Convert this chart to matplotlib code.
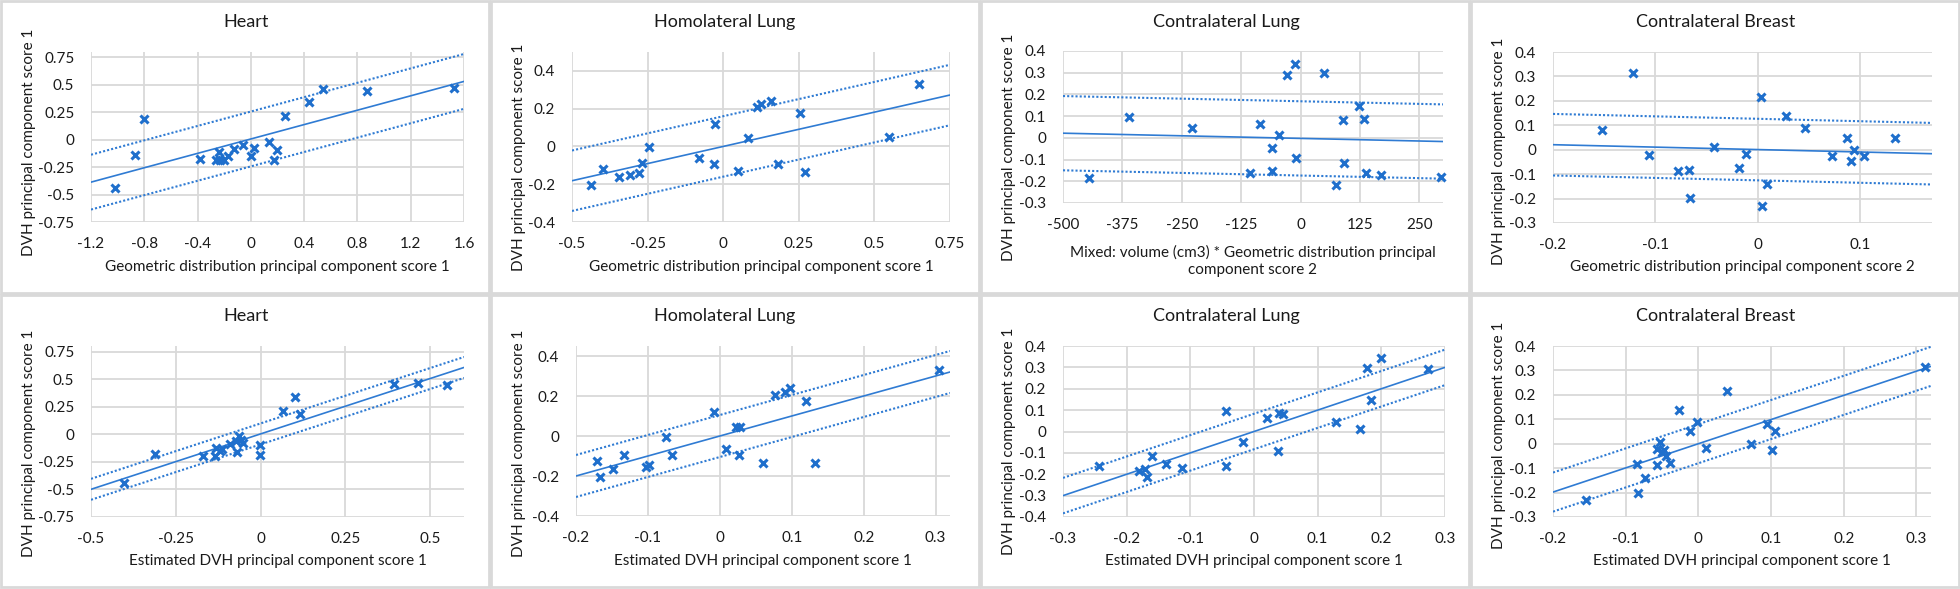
import numpy as np
import matplotlib
matplotlib.use("Agg")
import matplotlib.pyplot as plt
from matplotlib.patches import Rectangle

plt.rcParams["font.family"] = ["Lato", "DejaVu Sans"]

# ---- data (top row: predictors, bottom row: estimated) ----
heart_geo_x = [-1.018, -0.868, -0.80, -0.381, -0.263, -0.238, -0.231, -0.201, -0.173, -0.126,
               -0.061, 0.004, 0.026, 0.134, 0.176, 0.194, 0.256, 0.438, 0.543, 0.875, 1.522]
heart_geo_y = [-0.438, -0.136, 0.19, -0.178, -0.187, -0.115, -0.187, -0.187, -0.145, -0.082,
               -0.051, -0.151, -0.076, -0.021, -0.184, -0.097, 0.214, 0.344, 0.462, 0.447, 0.474]

homo_geo_x = [-0.438, -0.397, -0.346, -0.308, -0.277, -0.267, -0.244, -0.079, -0.032, -0.026,
              0.049, 0.083, 0.112, 0.125, 0.157, 0.182, 0.255, 0.271, 0.548, 0.647]
homo_geo_y = [-0.206, -0.120, -0.160, -0.153, -0.142, -0.088, -0.002, -0.062, -0.091, 0.121,
              -0.130, 0.046, 0.207, 0.223, 0.241, -0.095, 0.176, -0.134, 0.049, 0.331]

contra_mix_x = [-445.9, -361.7, -227.6, -106.8, -85.7, -60.4, -59.0, -45.7, -28.8, -12.0,
                -9.2, 49.8, 73.7, 89.8, 91.3, 123.6, 133.4, 137.6, 168.5, 295.6]
contra_mix_y = [-0.184, 0.094, 0.045, -0.162, 0.063, -0.048, -0.151, 0.011, 0.291, 0.342,
                -0.093, 0.297, -0.215, 0.082, -0.114, 0.148, 0.085, -0.162, -0.170, -0.178]

breast_geo_x = [-0.1526, -0.1216, -0.1066, -0.0776, -0.0675, -0.0662, -0.0424, -0.0189, -0.0111, 0.0033,
                0.0039, 0.0085, 0.0277, 0.0463, 0.0721, 0.0874, 0.0907, 0.0942, 0.1037, 0.134]
breast_geo_y = [0.079, 0.315, -0.020, -0.087, -0.085, -0.199, 0.010, -0.076, -0.016, 0.214,
                -0.232, -0.141, 0.138, 0.089, -0.027, 0.049, -0.045, -0.001, -0.025, 0.049]

heart_est_x = [-0.403, -0.312, -0.170, -0.133, -0.130, -0.120, -0.113, -0.091, -0.071, -0.069, -0.065,
               -0.059, -0.051, -0.001, -0.002, 0.066, 0.103, 0.115, 0.395, 0.463, 0.549]
heart_est_y = [-0.438, -0.181, -0.197, -0.197, -0.127, -0.151, -0.136, -0.085, -0.060, -0.160, -0.015,
               -0.051, -0.082, -0.097, -0.187, 0.212, 0.339, 0.187, 0.460, 0.469, 0.448]

homo_est_x = [-0.171, -0.167, -0.148, -0.133, -0.102, -0.098, -0.075, -0.066, -0.008, 0.008,
              0.022, 0.028, 0.026, 0.060, 0.077, 0.090, 0.097, 0.120, 0.132, 0.305]
homo_est_y = [-0.123, -0.206, -0.164, -0.093, -0.153, -0.144, -0.007, -0.093, 0.118, -0.065,
              0.046, 0.046, -0.095, -0.133, 0.206, 0.221, 0.239, 0.173, -0.136, 0.329]

contra_est_x = [-0.244, -0.180, -0.171, -0.168, -0.160, -0.139, -0.113, -0.044, -0.044, -0.018,
                0.020, 0.038, 0.040, 0.046, 0.129, 0.167, 0.177, 0.183, 0.200, 0.274]
contra_est_y = [-0.163, -0.183, -0.176, -0.213, -0.113, -0.151, -0.171, 0.094, -0.163, -0.049,
                0.063, -0.093, 0.085, 0.084, 0.045, 0.013, 0.296, 0.149, 0.344, 0.292]

breast_est_x = [-0.154, -0.084, -0.083, -0.073, -0.057, -0.057, -0.053, -0.050, -0.047, -0.045, -0.039,
                -0.027, -0.011, -0.002, 0.011, 0.040, 0.073, 0.094, 0.101, 0.105, 0.312]
breast_est_y = [-0.230, -0.084, -0.202, -0.140, -0.087, -0.023, 0.008, -0.034, -0.024, -0.049, -0.079,
                0.137, 0.051, 0.089, -0.017, 0.216, -0.002, 0.081, -0.024, 0.051, 0.316]

# fitted line (slope, intercept) and half-width of the dotted band
fit_slope = [0.328, 0.363, -4.8e-5, -0.0997, 1.004, 1.0, 1.0, 0.99]
fit_intercept = [0.007, 0.0, -0.0025, 0.0006, 0.003, 0.0, 0.0, 0.0]
fit_band = [0.25, 0.16, 0.171, 0.126, 0.095, 0.105, 0.083, 0.08]

titles = ["Heart", "Homolateral Lung", "Contralateral Lung", "Contralateral Breast",
          "Heart", "Homolateral Lung", "Contralateral Lung", "Contralateral Breast"]
x_labels = ["Geometric distribution principal component score 1",
            "Geometric distribution principal component score 1",
            "Mixed: volume (cm3) * Geometric distribution principal\ncomponent score 2",
            "Geometric distribution principal component score 2",
            "Estimated DVH principal component score 1",
            "Estimated DVH principal component score 1",
            "Estimated DVH principal component score 1",
            "Estimated DVH principal component score 1"]
y_label = "DVH principal component score 1"

x_ticks = [[-1.2, -0.8, -0.4, 0, 0.4, 0.8, 1.2, 1.6],
           [-0.5, -0.25, 0, 0.25, 0.5, 0.75],
           [-500, -375, -250, -125, 0, 125, 250],
           [-0.2, -0.1, 0, 0.1],
           [-0.5, -0.25, 0, 0.25, 0.5],
           [-0.2, -0.1, 0, 0.1, 0.2, 0.3],
           [-0.3, -0.2, -0.1, 0, 0.1, 0.2, 0.3],
           [-0.2, -0.1, 0, 0.1, 0.2, 0.3]]
x_tick_labels = [["-1.2", "-0.8", "-0.4", "0", "0.4", "0.8", "1.2", "1.6"],
                 ["-0.5", "-0.25", "0", "0.25", "0.5", "0.75"],
                 ["-500", "-375", "-250", "-125", "0", "125", "250"],
                 ["-0.2", "-0.1", "0", "0.1"],
                 ["-0.5", "-0.25", "0", "0.25", "0.5"],
                 ["-0.2", "-0.1", "0", "0.1", "0.2", "0.3"],
                 ["-0.3", "-0.2", "-0.1", "0", "0.1", "0.2", "0.3"],
                 ["-0.2", "-0.1", "0", "0.1", "0.2", "0.3"]]
x_limits = [(-1.2, 1.6), (-0.5, 0.75), (-500, 300), (-0.2, 0.17),
            (-0.5, 0.6), (-0.2, 0.32), (-0.3, 0.3), (-0.2, 0.32)]

y_ticks = [[-0.75, -0.5, -0.25, 0, 0.25, 0.5, 0.75],
           [-0.4, -0.2, 0, 0.2, 0.4],
           [-0.3, -0.2, -0.1, 0, 0.1, 0.2, 0.3, 0.4],
           [-0.3, -0.2, -0.1, 0, 0.1, 0.2, 0.3, 0.4],
           [-0.75, -0.5, -0.25, 0, 0.25, 0.5, 0.75],
           [-0.4, -0.2, 0, 0.2, 0.4],
           [-0.4, -0.3, -0.2, -0.1, 0, 0.1, 0.2, 0.3, 0.4],
           [-0.3, -0.2, -0.1, 0, 0.1, 0.2, 0.3, 0.4]]
y_limits = [(-0.75, 0.8), (-0.4, 0.5), (-0.3, 0.4), (-0.3, 0.4),
            (-0.75, 0.8), (-0.4, 0.45), (-0.4, 0.4), (-0.3, 0.4)]

series = [(heart_geo_x, heart_geo_y), (homo_geo_x, homo_geo_y),
          (contra_mix_x, contra_mix_y), (breast_geo_x, breast_geo_y),
          (heart_est_x, heart_est_y), (homo_est_x, homo_est_y),
          (contra_est_x, contra_est_y), (breast_est_x, breast_est_y)]

# ---- layout in pixels of the 1960x589 canvas ----
W, H = 1960, 589
PANEL_W, PANEL_H = 490, 294
# plot area: left, right, top, bottom
plot_box = [(91, 464, 52, 222), (572, 950, 52, 222), (1063, 1443, 51, 203), (1553, 1932, 52, 223),
            (91, 464, 346, 517), (576, 950, 346, 516), (1063, 1445, 346, 517), (1553, 1931, 346, 517)]
title_cx = [246, 235, 246, 246, 246, 235, 246, 246]
ylabel_cy = [142, 157, 147, 151, 149, 149, 147, 141]
xlabel_cy = [267, 267, 261, 267, 267, 267, 267, 267]

MARK = "#1f6fcc"
LINE = "#2f7bd3"
GRID = "#d9d9d9"
TEXT = "#1a1a1a"

fig = plt.figure(figsize=(W / 100, H / 100), dpi=100)


def fx(px):
    return px / W


def fy(py):
    return 1 - py / H


for i in range(8):
    col, row = i % 4, i // 4
    px0, py0 = col * PANEL_W, row * PANEL_H

    # chart-area border
    fig.patches.append(Rectangle((fx(px0 + 1), fy(py0 + PANEL_H - 1)), PANEL_W / W - 2 / W,
                                 (PANEL_H - 2) / H, transform=fig.transFigure,
                                 fill=False, edgecolor="#d9d9d9", linewidth=2))

    l, r, t, b = plot_box[i]
    ax = fig.add_axes([fx(l), fy(b), (r - l) / W, (b - t) / H])
    ax.set_xlim(*x_limits[i])
    ax.set_ylim(*y_limits[i])
    ax.set_xticks(x_ticks[i])
    ax.set_xticklabels(x_tick_labels[i])
    ax.set_yticks(y_ticks[i])
    ax.set_yticklabels([("%g" % v) for v in y_ticks[i]])
    ax.tick_params(length=0, labelsize=11, colors=TEXT, pad=11)
    ax.tick_params(axis="y", pad=12)
    for s in ax.spines.values():
        s.set_visible(False)
    ax.grid(True, color=GRID, linewidth=1.3)
    ax.set_axisbelow(True)

    xs = np.array(x_limits[i], dtype=float)
    yfit = fit_slope[i] * xs + fit_intercept[i]
    ax.plot(xs, yfit, color=LINE, linewidth=1.2)
    ax.plot(xs, yfit + fit_band[i], color=LINE, linewidth=1.5, linestyle=(0, (1, 1)))
    ax.plot(xs, yfit - fit_band[i], color=LINE, linewidth=1.5, linestyle=(0, (1, 1)))

    x, y = series[i]
    ax.plot(x, y, linestyle="none", marker="x", markersize=6, markeredgewidth=2.2,
            color=MARK, clip_on=False, zorder=5)

    fig.text(fx(px0 + title_cx[i]), fy(py0 + 22), titles[i], ha="center", va="center",
             fontsize=13, color=TEXT)
    fig.text(fx((l + r) / 2), fy(py0 + xlabel_cy[i]), x_labels[i], ha="center", va="center",
             fontsize=11, color=TEXT, linespacing=1.3)
    fig.text(fx(px0 + 29), fy(py0 + ylabel_cy[i]), y_label, ha="center", va="center",
             rotation=90, fontsize=11, color=TEXT)

fig.savefig("out.png", dpi=100, facecolor="white")
